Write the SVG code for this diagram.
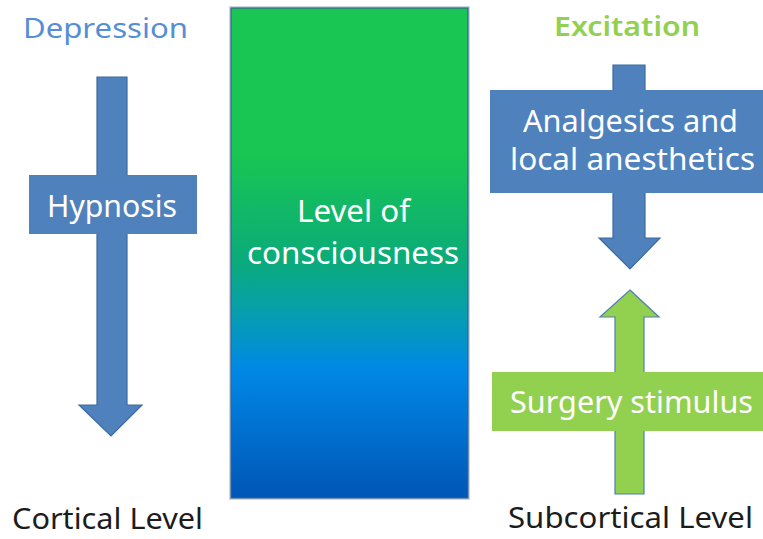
<svg xmlns="http://www.w3.org/2000/svg" width="763" height="539" viewBox="0 0 763 539">
<defs>
<linearGradient id="lvl" x1="0" y1="0" x2="0" y2="1">
<stop offset="0" stop-color="#19c553"/>
<stop offset="0.3" stop-color="#19c553"/>
<stop offset="0.51" stop-color="#0bac78"/>
<stop offset="0.61" stop-color="#07a0a8"/>
<stop offset="0.74" stop-color="#0088e6"/>
<stop offset="1" stop-color="#0056b6"/>
</linearGradient>
<style>
.t{font-family:"Noto Sans","Open Sans","Liberation Sans",sans-serif;}
.w{fill:#ffffff;font-size:30px;}
.k{fill:#1c1c1c;font-size:29px;}
.blue{fill:#4f81bd;stroke:#3d6a9f;stroke-width:1.2;}
.green{fill:#92d050;stroke:#4f7fb5;stroke-width:1.2;}
.bbox{fill:#4f81bd;}
.gbox{fill:#92d050;}
</style>
</defs>
<rect width="763" height="539" fill="#ffffff"/>
<g id="connectors">
<path class="blue" d="M97,77 H127 V405 H142 L111,436 L79,405 H97 Z"/>
<path class="blue" d="M613,65 H645 V238 H660 L630,269 L599,238 H613 Z"/>
<path class="green" d="M630,290 L659,317 H644 V494 H615 V317 H600 Z"/>
</g>
<g id="depression">
<text class="t" x="23" y="38" font-size="27" fill="#558ed5" textLength="165" lengthAdjust="spacingAndGlyphs">Depression</text>
</g>
<g id="excitation">
<text class="t" x="554" y="36" font-size="27" fill="#92d050" font-weight="600" textLength="146" lengthAdjust="spacingAndGlyphs">Excitation</text>
</g>
<g id="hypnosis">
<rect class="bbox" x="29" y="175" width="168" height="59"/>
<text class="t w" x="47" y="217" textLength="130" lengthAdjust="spacingAndGlyphs">Hypnosis</text>
</g>
<g id="consciousness">
<rect x="230" y="7" width="239" height="492" fill="none" stroke="#d0d4dc" stroke-width="2"/>
<rect x="231" y="8" width="237" height="490" fill="url(#lvl)" stroke="#3a6290" stroke-width="1.2"/>
<text class="t w" x="297" y="222" textLength="113" lengthAdjust="spacingAndGlyphs">Level of</text>
<text class="t w" x="247" y="264" textLength="212" lengthAdjust="spacingAndGlyphs">consciousness</text>
</g>
<g id="analgesics">
<rect class="bbox" x="490" y="90" width="273" height="103"/>
<text class="t w" x="523" y="132" textLength="215" lengthAdjust="spacingAndGlyphs">Analgesics and</text>
<text class="t w" x="510" y="170" textLength="245" lengthAdjust="spacingAndGlyphs">local anesthetics</text>
</g>
<g id="surgery">
<rect class="gbox" x="492" y="372" width="271" height="59"/>
<text class="t w" x="510" y="413" textLength="243" lengthAdjust="spacingAndGlyphs">Surgery stimulus</text>
</g>
<g id="cortical">
<text class="t k" x="12" y="529" textLength="191" lengthAdjust="spacingAndGlyphs">Cortical Level</text>
</g>
<g id="subcortical">
<text class="t k" x="508" y="528" textLength="245" lengthAdjust="spacingAndGlyphs">Subcortical Level</text>
</g>
</svg>
